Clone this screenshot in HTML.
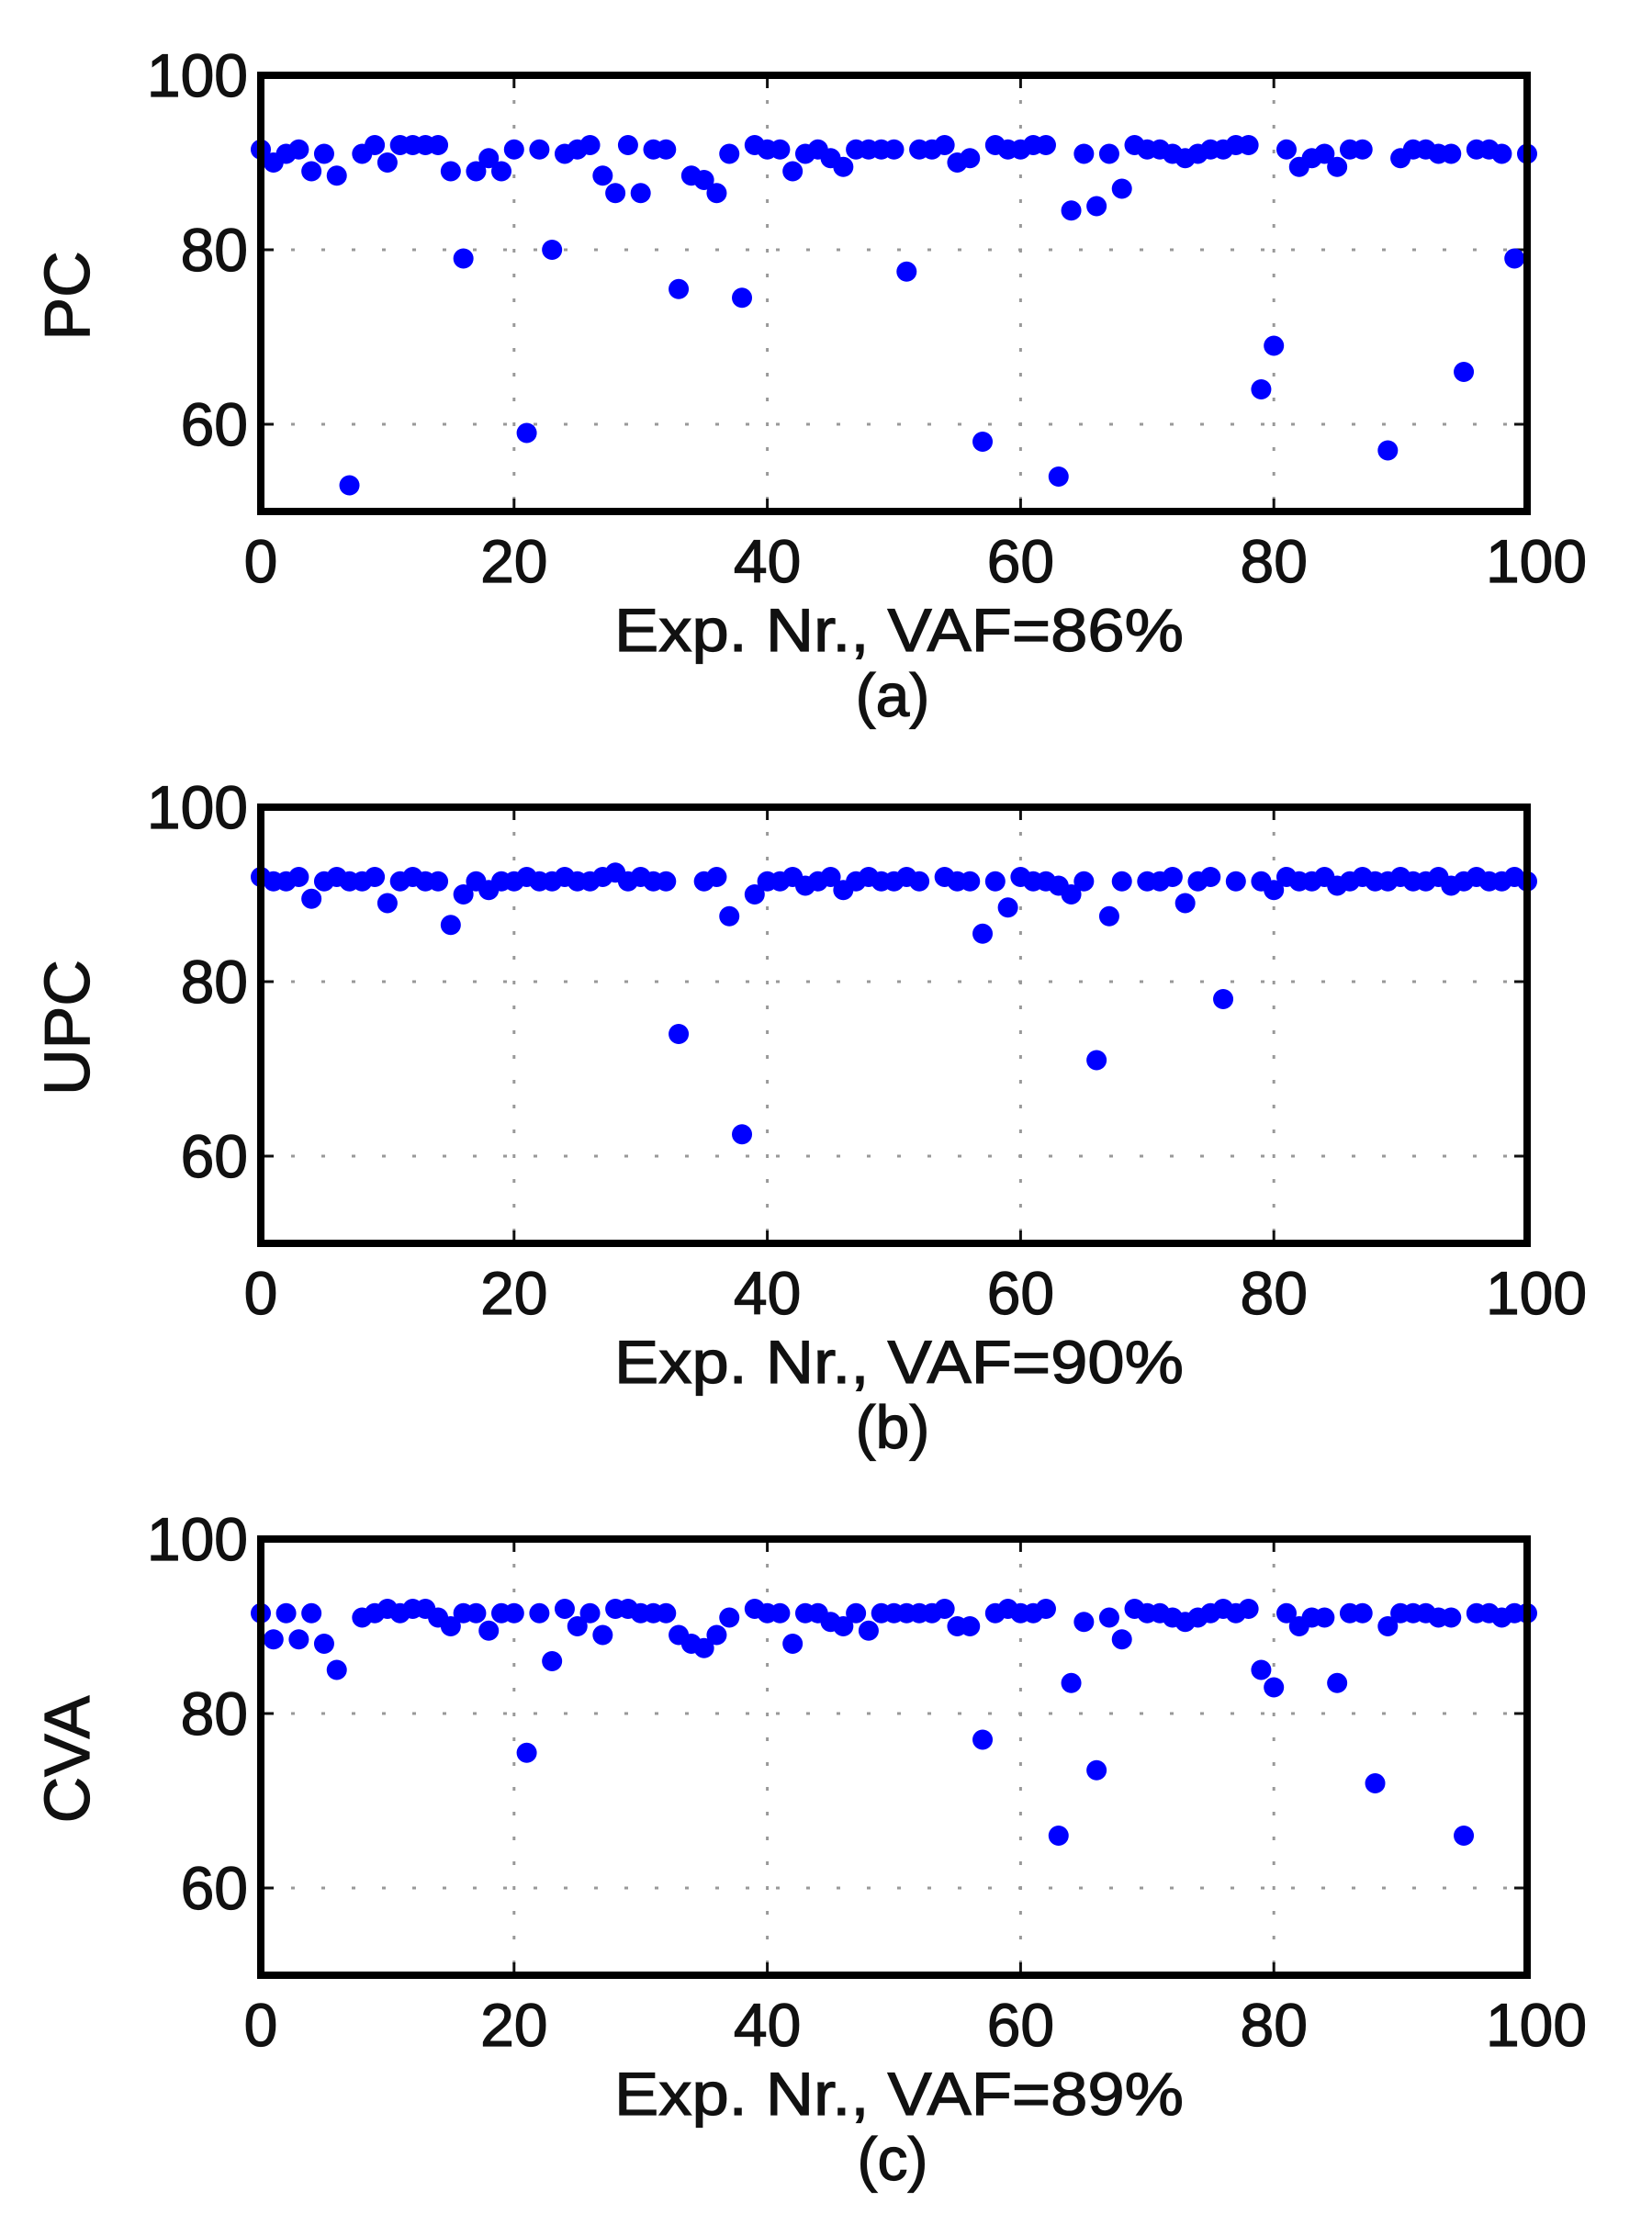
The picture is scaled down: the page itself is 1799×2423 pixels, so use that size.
<!DOCTYPE html>
<html><head><meta charset="utf-8"><style>html,body{margin:0;padding:0;background:#fff}svg{display:block}</style></head>
<body>
<svg id="s" width="1799" height="2423" xmlns="http://www.w3.org/2000/svg" font-family="Liberation Sans, Arial, sans-serif"></svg>
<script>
const NS="http://www.w3.org/2000/svg";
const s=document.getElementById('s');
function el(t,a,txt){const e=document.createElementNS(NS,t);for(const k in a)e.setAttribute(k,a[k]);if(txt!==undefined)e.textContent=txt;s.appendChild(e);return e;}
const X0=284,X1=1663;
function X(v){return X0+(X1-X0)*v/100;}
const A={0:91.5,1:90,2:91,3:91.5,4:89,5:91,6:88.5,7:53,8:91,9:92,10:90,11:92,12:92,13:92,14:92,15:89,16:79,17:89,18:90.5,19:89,20:91.5,21:59,22:91.5,23:80,24:91,25:91.5,26:92,27:88.5,28:86.5,29:92,30:86.5,31:91.5,32:91.5,33:75.5,34:88.5,35:88,36:86.5,37:91,38:74.5,39:92,40:91.5,41:91.5,42:89,43:91,44:91.5,45:90.5,46:89.5,47:91.5,48:91.5,49:91.5,50:91.5,51:77.5,52:91.5,53:91.5,54:92,55:90,56:90.5,57:58,58:92,59:91.5,60:91.5,61:92,62:92,63:54,64:84.5,65:91,66:85,67:91,68:87,69:92,70:91.5,71:91.5,72:91,73:90.5,74:91,75:91.5,76:91.5,77:92,78:92,79:64,80:69,81:91.5,82:89.5,83:90.5,84:91,85:89.5,86:91.5,87:91.5,89:57,90:90.5,91:91.5,92:91.5,93:91,94:91,95:66,96:91.5,97:91.5,98:91,99:79,100:91};
const Bo={4:89.5,10:89,15:86.5,16:90,18:90.5,28:92.5,33:74,37:87.5,38:62.5,39:90,43:91,46:90.5,57:85.5,59:88.5,63:91,64:90,66:71,67:87.5,73:89,76:78,80:90.5,85:91,94:91};
const B={};for(let i=0;i<=100;i++){B[i]=(i%3==0?92:91.5);} Object.assign(B,Bo); delete B[34]; delete B[53]; delete B[69]; delete B[78];
const Co={0:91.5,1:88.5,2:91.5,3:88.5,4:91.5,5:88,6:85,8:91,9:91.5,10:92,11:91.5,12:92,13:92,14:91,15:90,16:91.5,17:91.5,18:89.5,19:91.5,20:91.5,21:75.5,22:91.5,23:86,24:92,25:90,26:91.5,27:89,28:92,29:92,30:91.5,31:91.5,32:91.5,33:89,34:88,35:87.5,36:89,37:91,39:92,40:91.5,41:91.5,42:88,43:91.5,44:91.5,45:90.5,46:90,47:91.5,48:89.5,49:91.5,50:91.5,51:91.5,52:91.5,53:91.5,54:92,55:90,56:90,57:77,58:91.5,59:92,60:91.5,61:91.5,62:92,63:66,64:83.5,65:90.5,66:73.5,67:91,68:88.5,69:92,70:91.5,71:91.5,72:91,73:90.5,74:91,75:91.5,76:92,77:91.5,78:92,79:85,80:83,81:91.5,82:90,83:91,84:91,85:83.5,86:91.5,87:91.5,88:72,89:90,90:91.5,91:91.5,92:91.5,93:91,94:91,95:66,96:91.5,97:91.5,98:91,99:91.5,100:91.5};
const panels=[{d:A,lab:'PC',xl:'Exp. Nr., VAF=86%',c:'(a)'},{d:B,lab:'UPC',xl:'Exp. Nr., VAF=90%',c:'(b)'},{d:Co,lab:'CVA',xl:'Exp. Nr., VAF=89%',c:'(c)'}];
const TS={fill:'#111',stroke:'#111','stroke-width':1.2};
panels.forEach((p,k)=>{
  const off=k*797, T=82+off, Bt=557+off;
  const Y=v=>Bt-(v-50)*(Bt-T)/50;
  [20,40,60,80].forEach(v=>el('line',{x1:X(v),x2:X(v),y1:T,y2:Bt,stroke:'#999','stroke-width':3,'stroke-dasharray':'4 23'}));
  [60,80].forEach(v=>el('line',{x1:X0,x2:X1,y1:Y(v),y2:Y(v),stroke:'#999','stroke-width':3,'stroke-dasharray':'4 29'}));
  [20,40,60,80].forEach(v=>{el('line',{x1:X(v),x2:X(v),y1:Bt,y2:Bt-14,stroke:'#111','stroke-width':3});el('line',{x1:X(v),x2:X(v),y1:T,y2:T+14,stroke:'#111','stroke-width':3});});
  [60,80].forEach(v=>{el('line',{x1:X0,x2:X0+14,y1:Y(v),y2:Y(v),stroke:'#111','stroke-width':3});el('line',{x1:X1,x2:X1-14,y1:Y(v),y2:Y(v),stroke:'#111','stroke-width':3});});
  for(const key in p.d){const v=p.d[key];if(v==null)continue;el('circle',{cx:X(+key),cy:Y(v),r:11,fill:'#0000ff'});}
  el('rect',{x:X0,y:T,width:X1-X0,height:Bt-T,fill:'none',stroke:'#000','stroke-width':8});
  [[100,T],[80,Y(80)],[60,Y(60)]].forEach(([v,y])=>el('text',Object.assign({x:270,y:y+23,'font-size':66,'text-anchor':'end'},TS),String(v)));
  [0,20,40,60,80,100].forEach(v=>el('text',Object.assign({x:X(v)+(v==100?10:0),y:Bt+77,'font-size':66,'text-anchor':'middle'},TS),String(v)));
  el('text',Object.assign({x:979,y:Bt+152,'font-size':66,'text-anchor':'middle',textLength:620,lengthAdjust:'spacingAndGlyphs'},TS),p.xl);
  el('text',Object.assign({x:972,y:Bt+223,'font-size':66,'text-anchor':'middle'},TS),p.c);
  el('text',Object.assign({x:0,y:0,'font-size':70,'text-anchor':'middle',transform:`translate(97,${322+off}) rotate(-90)`},TS),p.lab);
});
</script>
</body></html>
